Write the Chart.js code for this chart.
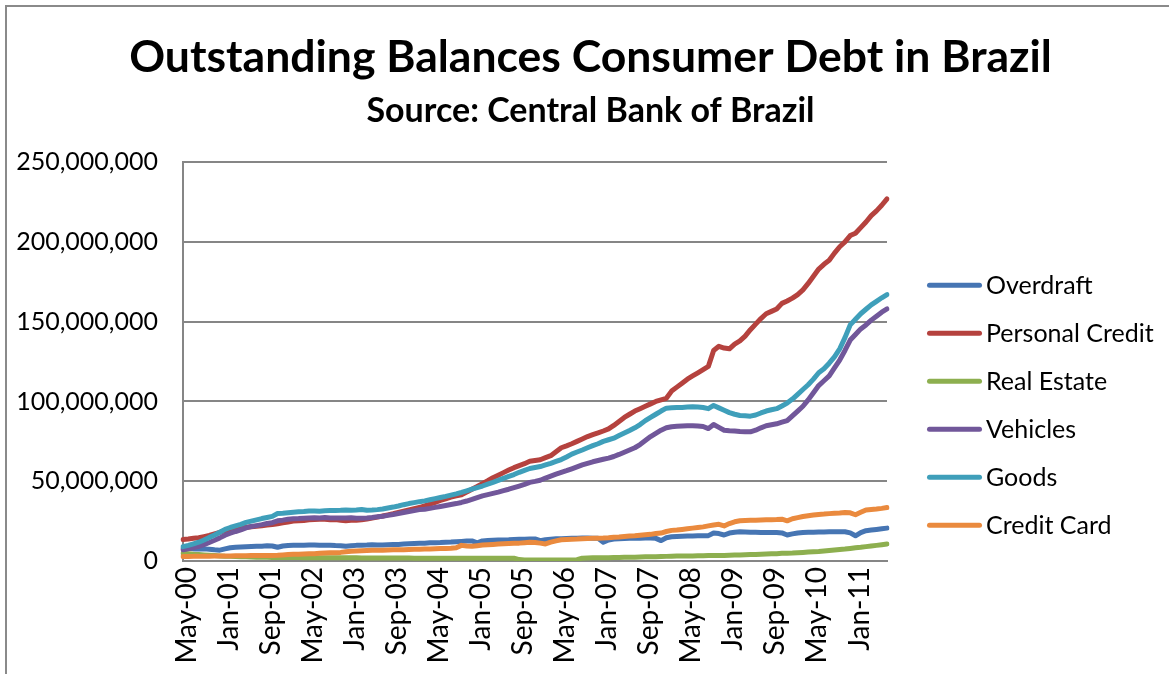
<!DOCTYPE html>
<html>
<head>
<meta charset="utf-8">
<title>Outstanding Balances Consumer Debt in Brazil</title>
<script src="https://cdn.jsdelivr.net/npm/chart.js@4.4.1/dist/chart.umd.min.js"></script>
<style>
  html, body { margin: 0; padding: 0; background: #fff; }
  #wrap { position: relative; width: 1169px; height: 674px; overflow: hidden; }
  #frame { position: absolute; left: 5px; top: 5px; right: -10px; bottom: -10px;
           border-top: 2px solid #8a8a8a; border-left: 2px solid #8a8a8a; }
  #chart { position: absolute; left: 0; top: 0; }
</style>
</head>
<body>
<div id="wrap">
  <div id="frame"></div>
  <canvas id="chart" width="1169" height="674"></canvas>
</div>
<script>
// Monthly outstanding balances, May-00 .. Jul-11, in millions (one row per year)
var overdraft = [
  8.0, 7.8, 7.6, 7.5, 7.6, 7.4, 7.0, 6.8,
  7.6, 8.3, 8.6, 8.8, 9.0, 9.1, 9.2, 9.3, 9.5, 9.4, 8.6, 9.4,
  9.7, 9.8, 9.85, 9.9, 10.0, 10.1, 9.9, 9.8, 9.9, 9.7, 9.6, 9.2,
  9.5, 9.8, 9.9, 10.0, 10.2, 10.1, 10.0, 10.2, 10.3, 10.4, 10.6, 10.8,
  11.0, 11.1, 11.2, 11.4, 11.5, 11.6, 11.8, 11.9, 12.1, 12.3, 12.5, 12.6,
  11.4, 12.6, 12.8, 13.0, 13.1, 13.2, 13.3, 13.5, 13.7, 13.7, 13.8, 13.8,
  12.7, 13.4, 13.7, 13.9, 14.0, 14.1, 14.2, 14.3, 14.4, 14.4, 14.3, 14.2,
  11.8, 13.2, 13.8, 14.0, 14.1, 14.2, 14.3, 14.3, 14.4, 14.4, 14.2, 12.8,
  14.6, 15.2, 15.4, 15.5, 15.6, 15.7, 15.8, 15.8, 15.9, 17.6, 17.2, 16.3,
  17.5, 18.0, 18.3, 18.2, 18.1, 18.0, 17.9, 17.9, 17.85, 17.8, 17.6, 16.3,
  17.0, 17.6, 17.9, 18.0, 18.1, 18.2, 18.2, 18.3, 18.3, 18.3, 18.3, 17.6,
  15.8, 17.8, 19.0, 19.4, 19.8, 20.2, 20.6
];
var personalCredit = [
  13.5, 13.8, 14.2, 14.6, 15.3, 16.0, 17.0, 18.0,
  19.0, 19.6, 20.2, 20.7, 21.2, 21.5, 21.8, 22.1, 22.5, 22.9, 23.4, 24.0,
  24.5, 25.0, 25.2, 25.4, 25.8, 26.0, 26.2, 26.1, 25.9, 26.0, 25.6, 25.3,
  25.5, 25.6, 25.8, 26.3, 26.9, 27.5, 28.2, 28.9, 29.6, 30.4, 31.2, 32.0,
  32.8, 33.5, 34.6, 35.6, 36.8, 38.0, 39.0, 40.0, 40.8, 41.5, 43.2, 45.0,
  46.7, 48.5, 50.3, 52.2, 53.8, 55.4, 57.0, 58.5, 59.8, 61.0, 62.5, 63.0,
  63.5, 64.8, 66.0, 68.5, 71.0, 72.2, 73.5, 75.0, 76.5, 78.0, 79.2, 80.3,
  81.5, 82.8, 85.0, 87.5, 90.0, 92.0, 94.0, 95.5, 97.0, 98.5, 100.0, 101.0,
  102.0, 106.5, 109.0, 111.5, 114.0, 116.0, 118.0, 120.0, 122.0, 132.0, 134.6, 133.5,
  133.0, 136.0, 138.0, 141.0, 145.0, 148.5, 152.0, 155.0, 156.5, 158.0, 161.5, 163.0,
  164.8, 167.0, 170.0, 174.0, 178.5, 183.0, 186.0, 188.5, 193.0, 197.0, 200.0, 204.0,
  205.5, 209.0, 212.5, 216.5, 219.5, 223.0, 227.0
];
var realEstate = [
  4.8, 4.5, 4.2, 4.0, 3.8, 3.6, 3.4, 3.2,
  3.0, 2.9, 2.8, 2.7, 2.6, 2.5, 2.4, 2.3, 2.3, 2.2, 2.2, 2.2,
  2.2, 2.2, 2.2, 2.1, 2.1, 2.1, 2.1, 2.0, 2.0, 2.0, 2.0, 2.0,
  2.0, 2.0, 1.9, 1.9, 1.9, 1.9, 1.9, 1.9, 1.9, 1.9, 1.9, 1.9,
  1.8, 1.8, 1.8, 1.8, 1.8, 1.8, 1.8, 1.8, 1.8, 1.8, 1.8, 1.8,
  1.8, 1.8, 1.8, 1.8, 1.8, 1.8, 1.7, 1.7, 0.9, 0.7, 0.7, 0.7,
  0.7, 0.7, 0.7, 0.7, 0.7, 0.7, 0.7, 0.8, 1.8, 1.9, 2.0, 2.0,
  2.1, 2.1, 2.2, 2.2, 2.3, 2.3, 2.4, 2.5, 2.6, 2.6, 2.7, 2.8,
  2.9, 3.0, 3.1, 3.1, 3.2, 3.2, 3.3, 3.3, 3.4, 3.4, 3.5, 3.5,
  3.6, 3.7, 3.8, 3.9, 4.0, 4.1, 4.3, 4.4, 4.5, 4.6, 4.8, 4.9,
  5.0, 5.2, 5.4, 5.6, 5.8, 6.0, 6.3, 6.6, 6.9, 7.2, 7.5, 7.9,
  8.3, 8.6, 9.0, 9.4, 9.8, 10.2, 10.6
];
var vehicles = [
  7.0, 7.6, 8.4, 9.2, 10.3, 11.6, 13.0, 14.5,
  16.2, 17.4, 18.5, 19.5, 20.8, 21.6, 22.2, 22.8, 23.5, 24.0, 25.2, 25.6,
  26.2, 26.5, 26.6, 26.8, 27.0, 27.1, 27.0, 27.2, 27.0, 27.0, 26.9, 27.0,
  27.1, 26.8, 26.8, 27.0, 27.3, 27.7, 28.1, 28.6, 29.2, 29.8, 30.4, 31.0,
  31.6, 32.2, 32.5, 33.0, 33.6, 34.2, 34.8, 35.4, 36.0, 36.7, 37.6, 38.6,
  39.7, 40.8, 41.6, 42.4, 43.2, 44.1, 45.0, 46.0, 47.0, 48.0, 49.3, 49.9,
  50.6, 52.0, 53.2, 54.4, 55.5, 56.6, 57.8, 59.0, 60.2, 61.2, 62.2, 63.0,
  63.8, 64.5, 65.5, 66.8, 68.2, 69.6, 71.0, 73.0, 75.5, 78.0, 80.0, 82.0,
  83.5, 84.2, 84.4, 84.6, 84.8, 84.8, 84.6, 84.3, 83.0, 85.6, 83.8, 82.0,
  81.7, 81.5, 81.2, 81.0, 81.0, 82.0, 83.5, 84.8, 85.4, 86.0, 87.0, 88.0,
  91.0, 94.0, 97.0, 101.0, 105.5, 110.0, 113.0, 116.0, 121.0, 126.0, 132.0, 138.5,
  142.0, 145.5, 148.0, 151.0, 153.5, 156.0, 158.0
];
var goods = [
  9.0, 9.8, 10.8, 11.8, 13.2, 14.8, 16.3, 18.0,
  19.8, 21.0, 22.0, 23.0, 24.2, 25.0, 25.8, 26.6, 27.3, 28.0, 29.8, 30.0,
  30.3, 30.6, 30.8, 31.0, 31.3, 31.4, 31.2, 31.5, 31.6, 31.7, 31.8, 32.0,
  31.8, 32.0, 32.3, 31.8, 31.9, 32.2, 32.6, 33.2, 33.8, 34.5, 35.3, 36.0,
  36.6, 37.2, 37.7, 38.4, 39.1, 39.8, 40.5, 41.3, 42.1, 43.0, 44.0, 45.0,
  46.0, 47.0, 48.2, 49.3, 50.5, 51.8, 53.0, 54.2, 55.6, 56.8, 58.0, 58.6,
  59.2, 60.2, 61.2, 62.4, 63.6, 65.2, 67.0, 68.3, 69.6, 71.0, 72.3, 73.5,
  75.0, 76.0, 77.0, 78.6, 80.2, 81.8, 83.5, 85.5, 88.0, 90.0, 92.0, 94.0,
  95.8, 96.0, 96.2, 96.3, 96.5, 96.7, 96.5, 96.2, 95.5, 97.5, 96.0, 94.5,
  93.0, 92.0, 91.2, 91.0, 90.8, 91.5, 92.8, 94.0, 94.8, 95.5, 97.2, 99.0,
  101.5, 104.5, 107.5, 110.5, 114.0, 118.0, 120.5, 124.0, 128.0, 133.0, 140.0, 148.0,
  151.5, 155.0, 157.8, 160.6, 162.8, 165.0, 167.0
];
var creditCard = [
  2.8, 2.8, 2.9, 2.9, 3.0, 3.0, 3.1, 3.1,
  3.2, 3.2, 3.3, 3.3, 3.3, 3.4, 3.4, 3.5, 3.5, 3.5, 3.6, 3.8,
  4.0, 4.2, 4.3, 4.4, 4.5, 4.6, 4.8, 5.0, 5.1, 5.2, 5.4, 5.8,
  6.1, 6.3, 6.5, 6.6, 6.7, 6.8, 6.8, 6.9, 7.0, 7.0, 7.1, 7.2,
  7.3, 7.4, 7.5, 7.6, 7.7, 7.8, 7.9, 8.0, 8.3, 9.8, 9.4, 9.2,
  9.6, 10.0, 10.2, 10.4, 10.6, 10.8, 11.0, 11.1, 11.2, 11.5, 11.7, 11.6,
  11.2, 10.7, 11.8, 12.6, 13.3, 13.5, 13.7, 13.8, 14.0, 14.1, 14.2, 14.3,
  14.4, 14.6, 14.9, 15.1, 15.4, 15.6, 15.8, 16.1, 16.4, 16.7, 17.2, 17.5,
  18.5, 19.2, 19.4, 19.8, 20.2, 20.6, 21.0, 21.4, 22.0, 22.6, 23.0, 22.0,
  23.5, 24.6, 25.2, 25.4, 25.5, 25.6, 25.7, 25.8, 25.9, 26.0, 26.2, 25.2,
  26.5, 27.2, 27.9, 28.4, 28.8, 29.2, 29.4, 29.7, 29.9, 30.1, 30.4, 30.2,
  29.0, 30.5, 32.0, 32.3, 32.6, 33.0, 33.5
];

var seriesNames = ['Overdraft', 'Personal Credit', 'Real Estate', 'Vehicles', 'Goods', 'Credit Card'];
var seriesColors = ['#4675b3', '#b5423e', '#8daf4f', '#71579a', '#3f9fba', '#ea8a3e'];
var seriesValues = [overdraft, personalCredit, realEstate, vehicles, goods, creditCard];

var yTickValues = [0, 50000000, 100000000, 150000000, 200000000, 250000000];
var monthNames = ['Jan', 'Feb', 'Mar', 'Apr', 'May', 'Jun', 'Jul', 'Aug', 'Sep', 'Oct', 'Nov', 'Dec'];
var labelEvery = 8;

// category labels "May-00" ... one per monthly observation
var categories = [];
for (var k = 0; k < overdraft.length; k++) {
  var m = 4 + k;
  var yy = Math.floor(m / 12);
  categories.push(monthNames[m % 12] + '-' + (yy < 10 ? '0' : '') + yy);
}

var FONT = 'Lato, "DejaVu Sans", sans-serif';
Chart.defaults.font.family = FONT;
Chart.defaults.color = '#000';

var datasets = seriesNames.map(function (name, i) {
  return {
    label: name,
    data: seriesValues[i].map(function (v) { return v * 1000000; }),
    borderColor: seriesColors[i],
    backgroundColor: seriesColors[i],
    borderWidth: 5,
    borderCapStyle: 'round',
    borderJoinStyle: 'round',
    pointRadius: 0,
    tension: 0,
    order: seriesNames.length - i   // later series drawn on top
  };
});

var gridGrey = '#868686';

// legend column to the right of the plot: short line + name per series
var sideLegend = {
  id: 'sideLegend',
  afterDraw: function (chart) {
    var ctx = chart.ctx;
    var area = chart.chartArea;
    var x0 = area.right + 42.5;
    var x1 = area.right + 92.5;
    var tx = area.right + 99;
    ctx.save();
    ctx.font = '25px ' + FONT;
    ctx.textBaseline = 'middle';
    ctx.textAlign = 'left';
    ctx.lineCap = 'round';
    ctx.lineWidth = 5;
    chart.data.datasets.forEach(function (ds, i) {
      var y = area.top + 123 + i * 48;
      ctx.strokeStyle = ds.borderColor;
      ctx.beginPath();
      ctx.moveTo(x0, y);
      ctx.lineTo(x1, y);
      ctx.stroke();
      ctx.fillStyle = '#000';
      ctx.fillText(ds.label, tx, y + 1);
    });
    ctx.restore();
  }
};

new Chart(document.getElementById('chart'), {
  type: 'line',
  data: { labels: categories, datasets: datasets },
  plugins: [sideLegend],
  options: {
    responsive: false,
    animation: false,
    devicePixelRatio: 1,
    layout: { padding: { left: 12, right: 0, top: 0, bottom: 0 } },
    scales: {
      x: {
        type: 'category',
        offset: false,
        grid: { display: false, drawTicks: false },
        border: { display: true, color: gridGrey, width: 2 },
        ticks: {
          autoSkip: false,
          minRotation: 90,
          maxRotation: 90,
          padding: 6,
          labelOffset: 4,
          font: { size: 28 },
          callback: function (value, index) {
            return index % labelEvery === 0 ? this.getLabelForValue(value) : null;
          }
        },
        afterFit: function (scale) { scale.height = 113; }
      },
      y: {
        min: 0,
        max: 250000000,
        grid: { color: gridGrey, lineWidth: 2, drawTicks: false },
        border: { display: true, color: gridGrey, width: 2 },
        ticks: {
          padding: 25,
          font: { size: 25 },
          callback: function (value) { return value.toLocaleString('en-US'); }
        },
        afterBuildTicks: function (scale) {
          scale.ticks = yTickValues.map(function (v) { return { value: v }; });
        },
        afterFit: function (scale) { scale.width = 171; }
      },
      // empty axis that reserves the room the legend is drawn in
      legendRoom: {
        type: 'linear',
        position: 'right',
        display: true,
        grid: { display: false },
        border: { display: false },
        ticks: { display: false },
        afterFit: function (scale) { scale.width = 282; }
      }
    },
    plugins: {
      title: {
        display: true,
        text: 'Outstanding Balances Consumer Debt in Brazil',
        color: '#000',
        font: { size: 44.5, weight: 'bold' },
        padding: { top: 31, bottom: 6 }
      },
      subtitle: {
        display: true,
        text: 'Source: Central Bank of Brazil',
        color: '#000',
        font: { size: 34, weight: 'bold' },
        padding: { top: 0, bottom: 31 }
      },
      legend: { display: false },
      tooltip: { enabled: false }
    }
  }
});
</script>
</body>
</html>
